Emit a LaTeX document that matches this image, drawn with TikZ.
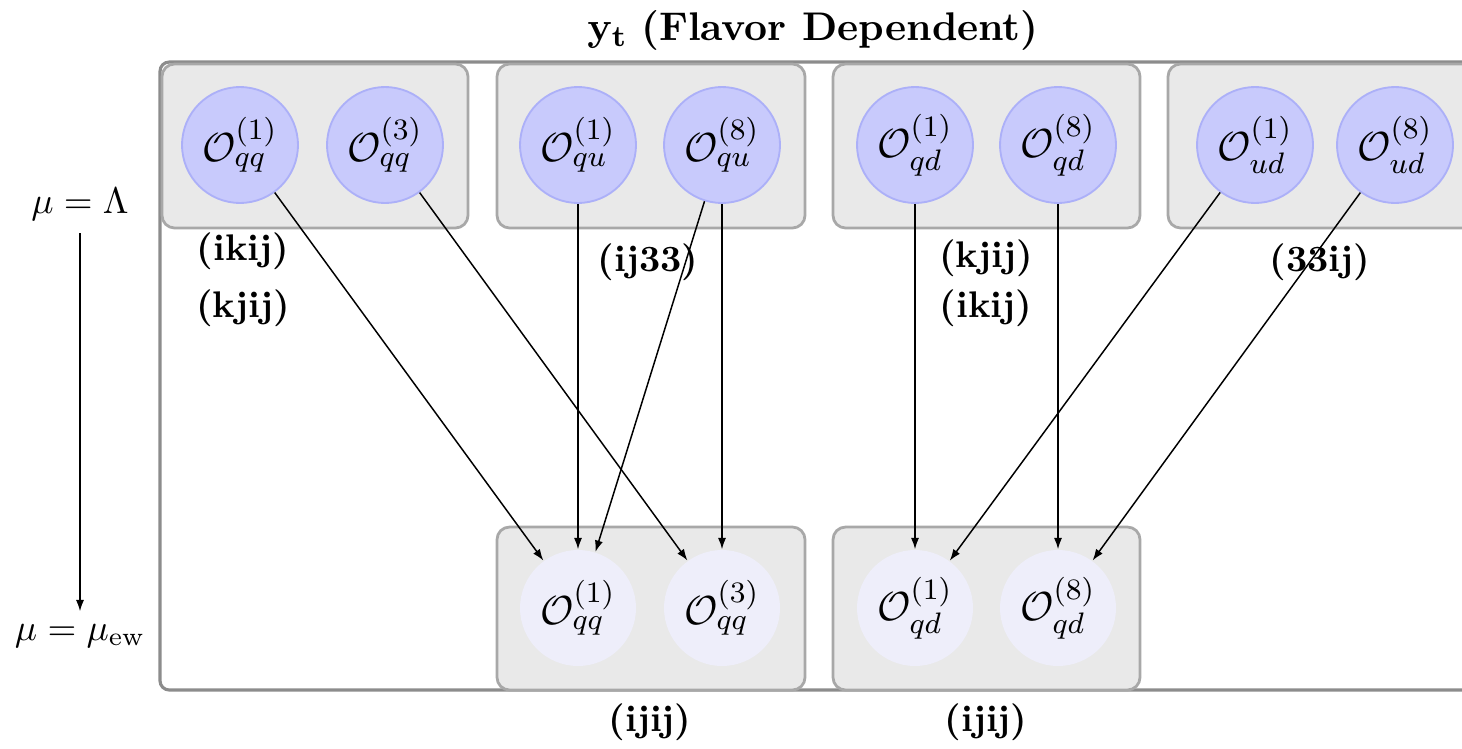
\documentclass[tikz,border=0pt]{standalone}
\usepackage{amsmath}
\usetikzlibrary{arrows.meta}
\definecolor{topfill}{RGB}{200,202,252}
\definecolor{topdraw}{RGB}{172,176,248}
\definecolor{botfill}{RGB}{238,238,250}
\definecolor{boxfill}{RGB}{233,233,233}
\definecolor{boxdraw}{RGB}{168,168,168}
\definecolor{framedraw}{RGB}{140,140,140}
\begin{document}
\begin{tikzpicture}[x=0.27pt,y=-0.27pt,
  framebox/.style={draw=framedraw,line width=0.85pt,rounded corners=2.5pt},
  groupbox/.style={draw=boxdraw,fill=boxfill,line width=0.75pt,rounded corners=3.4pt},
  opup/.style={circle,fill=topfill,draw=topdraw,line width=0.5pt,minimum size=31.3pt,inner sep=0pt,font=\fontsize{10.9}{13}\selectfont},
  opdown/.style={circle,fill=botfill,minimum size=31.3pt,inner sep=0pt,font=\fontsize{10.9}{13}\selectfont},
  idx/.style={font=\bfseries},
  flow/.style={-{Latex[length=3.1pt,width=2.2pt]},line width=0.4pt}]
\useasboundingbox (0,0) rectangle (1462,748);
% outer frame
\draw[framebox] (160,62) rectangle (1540,690);
% title
\node (title) at (813,30) {\fontsize{10.8}{13}\selectfont $\mathbf{y_t}$ \textbf{(Flavor Dependent)}};
% top group boxes
\draw[groupbox] (162,64) rectangle (468,228);
\draw[groupbox] (497,64) rectangle (805,228);
\draw[groupbox] (833,64) rectangle (1140,228);
\draw[groupbox] (1168,64) rectangle (1520,228);
% bottom group boxes
\draw[groupbox] (497,527) rectangle (805,690);
\draw[groupbox] (833,527) rectangle (1140,690);
% top operators
\node[opup] (t1) at (240,145) {$\mathcal{O}_{qq}^{(1)}$};
\node[opup] (t2) at (385,145) {$\mathcal{O}_{qq}^{(3)}$};
\node[opup] (t3) at (578,145) {$\mathcal{O}_{qu}^{(1)}$};
\node[opup] (t4) at (722,145) {$\mathcal{O}_{qu}^{(8)}$};
\node[opup] (t5) at (915,145) {$\mathcal{O}_{qd}^{(1)}$};
\node[opup] (t6) at (1058,145) {$\mathcal{O}_{qd}^{(8)}$};
\node[opup] (t7) at (1255,145) {$\mathcal{O}_{ud}^{(1)}$};
\node[opup] (t8) at (1395,145) {$\mathcal{O}_{ud}^{(8)}$};
% bottom operators
\node[opdown] (b1) at (578,608) {$\mathcal{O}_{qq}^{(1)}$};
\node[opdown] (b2) at (722,608) {$\mathcal{O}_{qq}^{(3)}$};
\node[opdown] (b3) at (915,608) {$\mathcal{O}_{qd}^{(1)}$};
\node[opdown] (b4) at (1058,608) {$\mathcal{O}_{qd}^{(8)}$};
% index labels
\node[idx] (l1) at (243,251) {(ikij)};
\node[idx] (l2) at (243,308) {(kjij)};
\node[idx] (l3) at (648,262) {(ij33)};
\node[idx] (l4) at (986,258) {(kjij)};
\node[idx] (l5) at (986,308) {(ikij)};
\node[idx] (l6) at (1320,262) {(33ij)};
\node[idx] (l7) at (650,722) {(ijij)};
\node[idx] (l8) at (986,722) {(ijij)};
% scale
\node (mhi) at (80,204) {$\mu=\Lambda$};
\node (mlo) at (80,636) {$\mu=\mu_{\text{ew}}$};
\draw[flow] (mhi) -- (mlo);
% connectors
\draw[flow] (t1) -- (b1);
\draw[flow] (t2) -- (b2);
\draw[flow] (t3) -- (b1);
\draw[flow] (t4) -- (b1);
\draw[flow] (t4) -- (b2);
\draw[flow] (t5) -- (b3);
\draw[flow] (t6) -- (b4);
\draw[flow] (t7) -- (b3);
\draw[flow] (t8) -- (b4);
\end{tikzpicture}
\end{document}
